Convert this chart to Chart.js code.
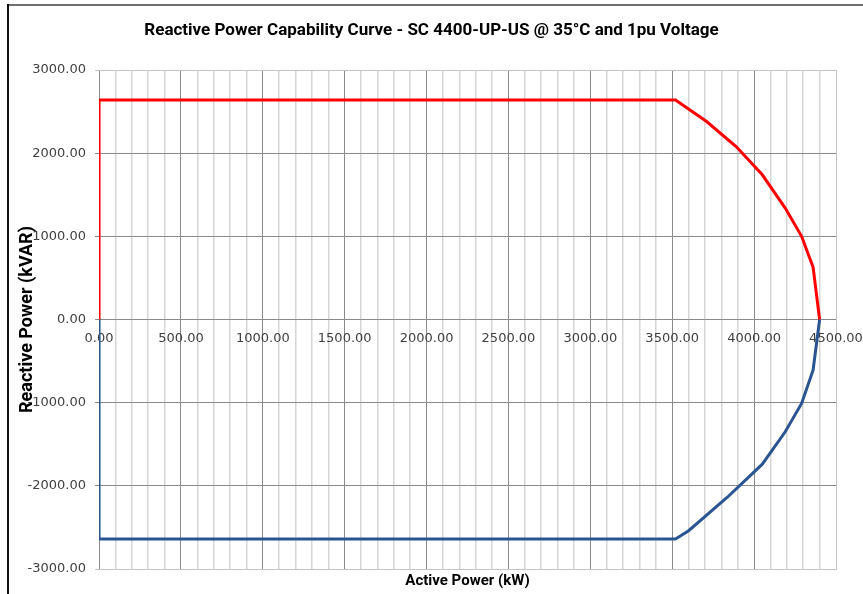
<!DOCTYPE html>
<html>
<head>
<meta charset="utf-8">
<title>Reactive Power Capability Curve</title>
<script src="https://cdn.jsdelivr.net/npm/chart.js@4/dist/chart.umd.min.js"></script>
<style>
  body { margin: 0; background: #fff; }
  #wrap { position: relative; width: 863px; height: 594px; background: #fff; }
</style>
</head>
<body>
<div id="wrap"><canvas id="canvas"></canvas></div>
<script>
// capability curve (kW / kVAR)
var activePowerLead = [0, 0, 3520, 3710, 3890, 4050, 4190, 4290, 4360, 4400];
var reactivePowerLead = [0, 2640, 2640, 2380, 2080, 1740, 1340, 1000, 630, 0];
var activePowerLag = [0, 0, 3520, 3600, 3835, 4050, 4190, 4290, 4360, 4400];
var reactivePowerLag = [0, -2640, -2640, -2540, -2140, -1740, -1350, -1010, -610, 0];

// axes
var xMin = 0, xMax = 4500, xLabelStep = 500, xGridStep = 100;
var yMin = -3000, yMax = 3000, yLabelStep = 1000;

var tickFont = { family: "DejaVu Sans", size: 13 };

function toPoints(xs, ys) {
  var pts = [];
  for (var i = 0; i < xs.length; i++) pts.push({ x: xs[i], y: ys[i] });
  return pts;
}

// outer frame of the pasted chart (top + left edge)
var framePlugin = {
  id: "frame",
  afterDraw: function(chart) {
    var c = chart.ctx;
    c.save();
    c.lineWidth = 2;
    c.strokeStyle = "#6e6e6e";
    c.beginPath(); c.moveTo(8, 5); c.lineTo(chart.width, 5); c.stroke();
    c.strokeStyle = "#111";
    c.beginPath(); c.moveTo(8, 4); c.lineTo(8, chart.height); c.stroke();
    c.restore();
  }
};

new Chart(document.getElementById("canvas"), {
  type: "scatter",
  data: {
    datasets: [{
      label: "Q lead",
      data: toPoints(activePowerLead, reactivePowerLead),
      showLine: true,
      borderColor: "#ff0000",
      borderWidth: 3,
      pointRadius: 0,
      fill: false
    }, {
      label: "Q lag",
      data: toPoints(activePowerLag, reactivePowerLag),
      showLine: true,
      borderColor: "#2a5590",
      borderWidth: 3,
      pointRadius: 0,
      fill: false
    }]
  },
  options: {
    responsive: true,
    maintainAspectRatio: false,
    animation: false,
    layout: { padding: { top: 6, left: 27, right: 27, bottom: 1 } },
    plugins: {
      legend: { display: false },
      tooltip: { enabled: false },
      title: {
        display: true,
        text: "Reactive Power Capability Curve - SC 4400-UP-US @ 35°C and 1pu Voltage",
        color: "#000",
        font: { family: "Roboto", weight: "bold", size: 17 },
        padding: { top: 15, bottom: 28.6 }
      }
    },
    scales: {
      x: {
        type: "linear",
        position: "bottom",
        min: xMin,
        max: xMax,
        border: { display: true, color: "#c4c4c4" },
        grid: {
          drawTicks: false,
          color: function(ctx) {
            var v = ctx.tick.value;
            if (v === xMax) return "#c4c4c4";
            return v % xLabelStep === 0 ? "#8a8a8a" : "#d6d6d6";
          },
          lineWidth: function(ctx) {
            return ctx.tick.value % xLabelStep === 0 ? 1 : 1.5;
          }
        },
        ticks: { display: false, stepSize: xGridStep, autoSkip: false },
        title: {
          display: true,
          text: "Active Power (kW)",
          color: "#000",
          font: { family: "Roboto", weight: "bold", size: 15 },
          padding: { top: 3, bottom: 3 }
        }
      },
      xLabels: {
        axis: "x",
        type: "linear",
        position: { y: 0 },
        min: xMin,
        max: xMax,
        border: { display: false },
        grid: { display: false, drawTicks: false },
        // labels may run past the plot edge, like the original
        afterFit: function(scale) {
          scale.paddingLeft = 0;
          scale.paddingRight = 0;
        },
        ticks: {
          stepSize: xLabelStep,
          autoSkip: false,
          maxRotation: 0,
          padding: 11,
          color: "#404040",
          font: tickFont,
          callback: function(v) { return v.toFixed(2); }
        }
      },
      y: {
        type: "linear",
        position: "left",
        min: yMin,
        max: yMax,
        border: { display: false },
        grid: {
          tickLength: 4,
          color: function(ctx) {
            var v = ctx.tick.value;
            return (v === yMax || v === yMin) ? "#c4c4c4" : "#8a8a8a";
          }
        },
        ticks: {
          stepSize: yLabelStep,
          padding: 9,
          color: "#404040",
          font: tickFont,
          callback: function(v) { return v.toFixed(2); }
        },
        title: {
          display: true,
          text: "Reactive Power (kVAR)",
          color: "#000",
          font: { family: "Roboto", weight: "bold", size: 18 },
          padding: { top: -10.8, bottom: -19.2 }
        }
      }
    }
  },
  plugins: [framePlugin]
});
</script>
</body>
</html>
